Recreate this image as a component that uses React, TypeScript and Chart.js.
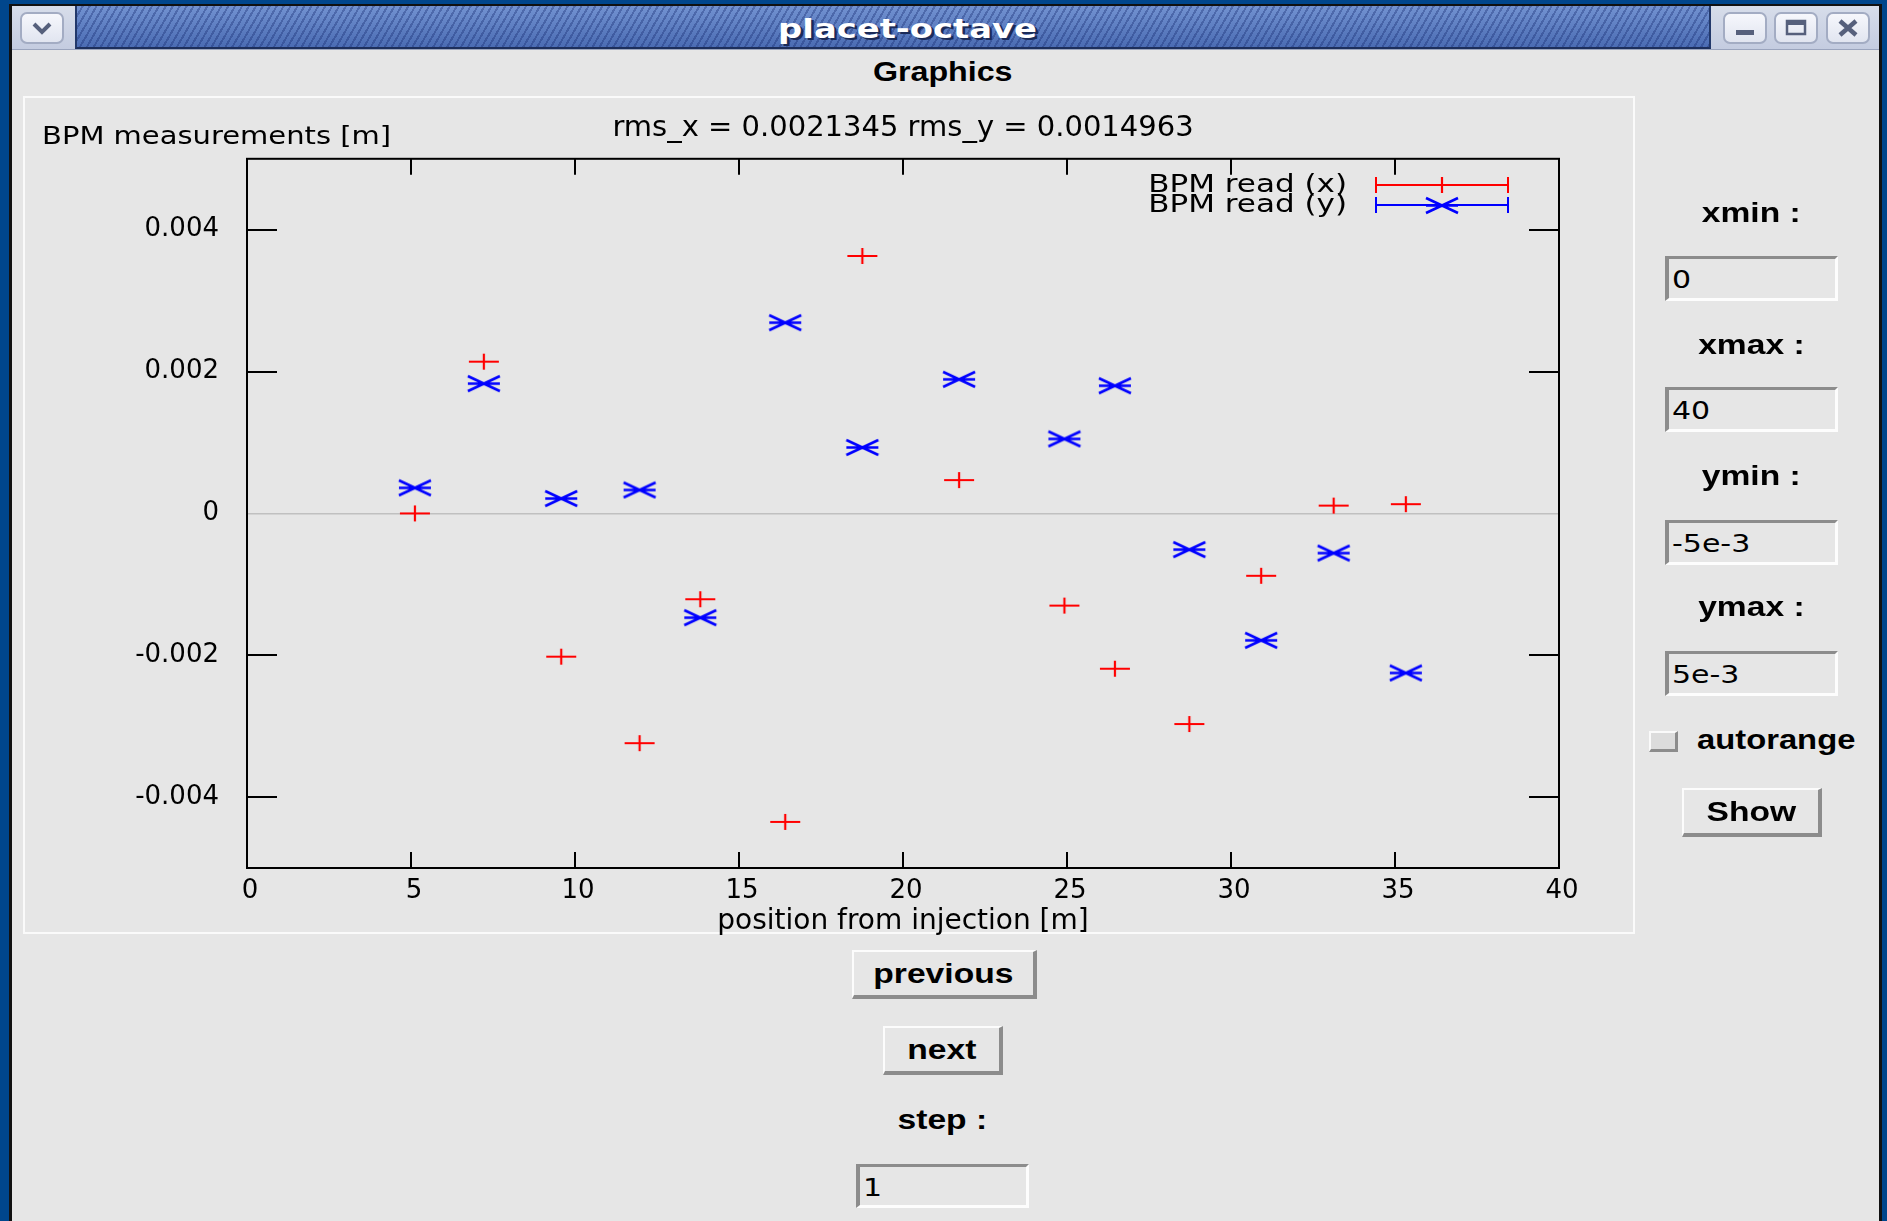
import React, { useEffect, useRef } from 'react';
import { Chart, registerables } from 'chart.js';

Chart.register(...registerables);

// ---------------- data ----------------
const positions = [5.12, 7.22, 9.58, 11.97, 13.82, 16.41, 18.76, 21.71, 24.92, 26.46, 28.73, 30.92, 33.13, 35.33];
const bpmReadX = [0.0, 0.00214, -0.00202, -0.00324, -0.00121, -0.00435, 0.00363, 0.00047, -0.0013, -0.00219, -0.00297, -0.00088, 0.00011, 0.00013];
const bpmReadY = [0.00036, 0.00183, 0.00021, 0.00033, -0.00147, 0.00269, 0.00093, 0.00189, 0.00105, 0.0018, -0.00051, -0.00179, -0.00056, -0.00225];
const seriesLabels = ['BPM read (x)', 'BPM read (y)'];
const seriesColors = ['#ff0000', '#0000ff'];
const xTickValues = [0, 5, 10, 15, 20, 25, 30, 35, 40];
const yTickValues = [-0.004, -0.002, 0, 0.002, 0.004];
const xLimits = [0, 40];
const yLimits = [-0.005, 0.005];
const chartTitle = 'rms_x = 0.0021345 rms_y = 0.0014963';
const yAxisLabel = 'BPM measurements [m]';
const xAxisLabel = 'position from injection [m]';

const rangeFields = [
  { label: 'xmin :', value: '0' },
  { label: 'xmax :', value: '40' },
  { label: 'ymin :', value: '-5e-3' },
  { label: 'ymax :', value: '5e-3' },
];

// ---------------- styling ----------------
const PLOT_FONT = '"DejaVu Sans", sans-serif';
const GUI_FONT = '"Liberation Sans", Arial, sans-serif';
const BG = '#e6e6e6';

function makePlus(color: string) {
  const c = document.createElement('canvas');
  c.width = 32;
  c.height = 18;
  const g = c.getContext('2d')!;
  g.strokeStyle = color;
  g.lineWidth = 2.2;
  g.beginPath();
  g.moveTo(1, 9);
  g.lineTo(31, 9);
  g.moveTo(16, 1);
  g.lineTo(16, 17);
  g.stroke();
  return c;
}

function makeStar(color: string) {
  const c = document.createElement('canvas');
  c.width = 36;
  c.height = 19;
  const g = c.getContext('2d')!;
  g.strokeStyle = color;
  g.lineWidth = 2.6;
  g.beginPath();
  g.moveTo(2, 9.5);
  g.lineTo(34, 9.5);
  g.moveTo(2, 2);
  g.lineTo(34, 17);
  g.moveTo(2, 17);
  g.lineTo(34, 2);
  g.stroke();
  return c;
}

function drawStretched(ctx: CanvasRenderingContext2D, text: string, x: number, y: number, size: number, sx: number, align: CanvasTextAlign) {
  ctx.save();
  ctx.translate(x, y);
  ctx.scale(sx, 1);
  ctx.font = `${size}px ${PLOT_FONT}`;
  ctx.fillStyle = '#000';
  ctx.textAlign = align;
  ctx.textBaseline = 'middle';
  ctx.fillText(text, 0, 0);
  ctx.restore();
}

const framePlugin = {
  id: 'gnuplotFrame',
  afterDraw(chart: any) {
    const { ctx, chartArea: a, scales } = chart;
    ctx.save();
    ctx.strokeStyle = '#000';
    ctx.lineWidth = 2;
    ctx.strokeRect(a.left, a.top, a.right - a.left, a.bottom - a.top);
    ctx.beginPath();
    for (const v of xTickValues) {
      if (v <= xLimits[0] || v >= xLimits[1]) continue;
      const px = Math.round(scales.x.getPixelForValue(v));
      ctx.moveTo(px, a.bottom);
      ctx.lineTo(px, a.bottom - 16);
      ctx.moveTo(px, a.top);
      ctx.lineTo(px, a.top + 16);
    }
    for (const v of yTickValues) {
      if (v === 0) continue;
      const py = Math.round(scales.y.getPixelForValue(v));
      ctx.moveTo(a.left, py);
      ctx.lineTo(a.left + 30, py);
      ctx.moveTo(a.right, py);
      ctx.lineTo(a.right - 30, py);
    }
    ctx.stroke();

    // y axis label (horizontal, top-left)
    drawStretched(ctx, yAxisLabel, a.left - 205, a.top - 21, 25, 1.16, 'left');

    // legend (gnuplot style with error-bar line)
    chart.data.datasets.forEach((d: any, i: number) => {
      const y = Math.round(a.top + 26 + i * 20);
      drawStretched(ctx, d.label, a.right - 212, y, 25, 1.24, 'right');
      const x0 = a.right - 183;
      const x1 = a.right - 51;
      ctx.strokeStyle = d.borderColor;
      ctx.lineWidth = 2;
      ctx.beginPath();
      ctx.moveTo(x0, y);
      ctx.lineTo(x1, y);
      ctx.moveTo(x0, y - 8);
      ctx.lineTo(x0, y + 8);
      ctx.moveTo(x1, y - 8);
      ctx.lineTo(x1, y + 8);
      ctx.stroke();
      const img = d.pointStyle as HTMLCanvasElement;
      ctx.drawImage(img, Math.round((x0 + x1) / 2 - img.width / 2), Math.round(y - img.height / 2));
    });
    ctx.restore();
  },
};

function PlotCanvas() {
  const ref = useRef<HTMLCanvasElement>(null);
  useEffect(() => {
    const canvas = ref.current!;
    const plus = makePlus(seriesColors[0]);
    const star = makeStar(seriesColors[1]);
    const chart = new Chart(canvas, {
      type: 'scatter',
      data: {
        datasets: [
          {
            label: seriesLabels[0],
            data: positions.map((p, i) => ({ x: p, y: bpmReadX[i] })),
            pointStyle: plus as any,
            borderColor: seriesColors[0],
            backgroundColor: seriesColors[0],
            pointRadius: 8,
          },
          {
            label: seriesLabels[1],
            data: positions.map((p, i) => ({ x: p, y: bpmReadY[i] })),
            pointStyle: star as any,
            borderColor: seriesColors[1],
            backgroundColor: seriesColors[1],
            pointRadius: 8,
          },
        ],
      },
      options: {
        responsive: false,
        animation: false,
        devicePixelRatio: 1,
        layout: { padding: { left: 0, right: 76, top: 0, bottom: 0 } },
        plugins: {
          legend: { display: false },
          tooltip: { enabled: false },
          title: {
            display: true,
            text: chartTitle,
            fullSize: false,
            color: '#000',
            font: { family: PLOT_FONT, size: 29, weight: 'normal' },
            padding: { top: 15, bottom: 13 },
          },
        },
        scales: {
          x: {
            type: 'linear',
            min: xLimits[0],
            max: xLimits[1],
            afterBuildTicks: (s: any) => {
              s.ticks = xTickValues.map((v) => ({ value: v }));
            },
            afterFit: (s: any) => {
              s.height = 71;
            },
            grid: { display: false, drawTicks: false },
            border: { display: false },
            ticks: {
              color: '#000',
              font: { family: PLOT_FONT, size: 26 },
              padding: 8,
              labelOffset: 3,
              maxRotation: 0,
              autoSkip: false,
              callback: (v: any) => String(v),
            },
            title: {
              display: true,
              text: xAxisLabel,
              color: '#000',
              font: { family: PLOT_FONT, size: 28 },
              padding: { top: 0, bottom: 0 },
            },
          },
          y: {
            type: 'linear',
            min: yLimits[0],
            max: yLimits[1],
            afterBuildTicks: (s: any) => {
              s.ticks = yTickValues.map((v) => ({ value: v }));
            },
            afterFit: (s: any) => {
              s.width = 224;
            },
            grid: {
              drawTicks: false,
              lineWidth: 1.5,
              color: (c: any) => (c.tick && c.tick.value === 0 ? '#c0c0c0' : 'rgba(0,0,0,0)'),
            },
            border: { display: false },
            ticks: {
              color: '#000',
              font: { family: PLOT_FONT, size: 26 },
              padding: 28,
              autoSkip: false,
              callback: (v: any) => (Number(v) === 0 ? '0' : Number(v).toFixed(3)),
            },
          },
        },
      },
      plugins: [framePlugin],
    } as any);
    return () => chart.destroy();
  }, []);
  return (
    <canvas
      ref={ref}
      width={1612}
      height={843}
      style={{ position: 'absolute', left: 23, top: 96, width: 1612, height: 843 }}
    />
  );
}

// ---------------- GUI widgets ----------------
function Text({ cx, cy, text, size = 28, sx = 1.2, bold = true, color = '#000', align = 'center', family = GUI_FONT, shadow }: any) {
  const isLeft = align === 'left';
  return (
    <div
      style={{
        position: 'absolute',
        left: isLeft ? cx : cx - 300,
        width: isLeft ? 400 : 600,
        top: cy - size,
        height: size * 2,
        display: 'flex',
        alignItems: 'center',
        justifyContent: isLeft ? 'flex-start' : 'center',
        pointerEvents: 'none',
      }}
    >
      <span
        style={{
          display: 'inline-block',
          transform: `scaleX(${sx})`,
          transformOrigin: isLeft ? 'left center' : 'center center',
          fontFamily: family,
          fontWeight: bold ? 'bold' : 'normal',
          fontSize: size,
          lineHeight: 1,
          color,
          whiteSpace: 'nowrap',
          textShadow: shadow,
        }}
      >
        {text}
      </span>
    </div>
  );
}

function Button({ left, top, width, height, text }: any) {
  return (
    <div
      style={{
        position: 'absolute',
        left,
        top,
        width,
        height,
        boxSizing: 'border-box',
        background: BG,
        borderStyle: 'solid',
        borderWidth: '2px 4px 4px 2px',
        borderColor: '#fcfcfc #8c8c8c #8c8c8c #fcfcfc',
      }}
    >
      <Text cx={(width - 6) / 2} cy={(height - 6) / 2} text={text} />
    </div>
  );
}

function Entry({ left, top, width, height, value }: any) {
  return (
    <div
      style={{
        position: 'absolute',
        left,
        top,
        width,
        height,
        boxSizing: 'border-box',
        background: BG,
        borderStyle: 'solid',
        borderWidth: '3px 3px 3px 4px',
        borderColor: '#8c8c8c #fdfdfd #fdfdfd #8c8c8c',
      }}
    >
      <Text cx={3} cy={(height - 6) / 2 + 1} text={value} align="left" bold={false} size={25} sx={1.2} family={PLOT_FONT} />
    </div>
  );
}

function TitleButton({ left, children }: any) {
  return (
    <div
      style={{
        position: 'absolute',
        left,
        top: 12,
        width: 44,
        height: 32,
        boxSizing: 'border-box',
        borderRadius: 7,
        border: '2px solid #a3acc3',
        background: 'linear-gradient(#f6f7fc, #e1e5f0)',
      }}
    >
      <svg width={40} height={28} style={{ position: 'absolute', left: 0, top: 0 }}>
        {children}
      </svg>
    </div>
  );
}

export default function App() {
  const fieldTops = [
    { label: 213, entry: 256 },
    { label: 345, entry: 387 },
    { label: 476, entry: 520 },
    { label: 607, entry: 651 },
  ];
  return (
    <div
      style={{
        position: 'fixed',
        left: 0,
        top: 0,
        width: 1887,
        height: 1221,
        overflow: 'hidden',
        background: '#00468c',
      }}
    >
      {/* window frame */}
      <div style={{ position: 'absolute', left: 9, top: 4, width: 1873, height: 1260, background: '#111' }} />
      <div style={{ position: 'absolute', left: 12, top: 6, width: 1867, height: 1260, background: BG }} />
      {/* title bar area */}
      <div
        style={{
          position: 'absolute',
          left: 12,
          top: 6,
          width: 1867,
          height: 43,
          background: 'linear-gradient(#d7ddea, #c4cce0)',
          borderBottom: '1px solid #9aa4bd',
        }}
      />
      <div
        style={{
          position: 'absolute',
          left: 75,
          top: 6,
          width: 1636,
          height: 43,
          boxSizing: 'border-box',
          borderLeft: '2px solid #22386a',
          borderRight: '2px solid #22386a',
          borderBottom: '2px solid #1d2f5c',
          background:
            'repeating-linear-gradient(120deg, rgba(20,40,110,0) 0px, rgba(20,40,110,0) 4px, rgba(20,40,110,0.35) 4px, rgba(20,40,110,0.35) 6px), linear-gradient(#7292d1, #4b6cb3)',
        }}
      />
      <Text cx={908} cy={29} text="placet-octave" size={26} sx={1.3} color="#ffffff" family={PLOT_FONT} shadow="2px 2px 0 #1b2b58" />
      <TitleButton left={20}>
        <polyline points="12,10 20,18 28,10" fill="none" stroke="#56607c" strokeWidth={4} />
      </TitleButton>
      <TitleButton left={1723}>
        <rect x={11} y={16} width={18} height={5} fill="#56607c" />
      </TitleButton>
      <TitleButton left={1774}>
        <rect x={11} y={7} width={18} height={13} fill="none" stroke="#56607c" strokeWidth={2.5} />
        <rect x={11} y={7} width={18} height={4} fill="#56607c" />
      </TitleButton>
      <TitleButton left={1826}>
        <path d="M12 7 L28 21 M28 7 L12 21" stroke="#56607c" strokeWidth={4.5} />
      </TitleButton>

      {/* header */}
      <Text cx={943} cy={72} text="Graphics" sx={1.15} />

      {/* plot panel */}
      <div
        style={{
          position: 'absolute',
          left: 23,
          top: 96,
          width: 1612,
          height: 838,
          boxSizing: 'border-box',
          border: '2px solid #fafafa',
        }}
      />
      <PlotCanvas />

      {/* side controls */}
      {rangeFields.map((f, i) => (
        <React.Fragment key={f.label}>
          <Text cx={1751} cy={fieldTops[i].label} text={f.label} />
          <Entry left={1665} top={fieldTops[i].entry} width={173} height={45} value={f.value} />
        </React.Fragment>
      ))}
      <div
        style={{
          position: 'absolute',
          left: 1649,
          top: 731,
          width: 29,
          height: 21,
          boxSizing: 'border-box',
          background: '#dcdcdc',
          borderStyle: 'solid',
          borderWidth: '2px 3px 3px 2px',
          borderColor: '#fafafa #8c8c8c #8c8c8c #fafafa',
        }}
      />
      <Text cx={1697} cy={740} text="autorange" align="left" sx={1.17} />
      <Button left={1682} top={788} width={140} height={49} text="Show" />

      {/* bottom controls */}
      <Button left={852} top={950} width={185} height={49} text="previous" />
      <Button left={883} top={1026} width={120} height={49} text="next" />
      <Text cx={942} cy={1120} text="step :" />
      <Entry left={856} top={1164} width={173} height={44} value="1" />
    </div>
  );
}
